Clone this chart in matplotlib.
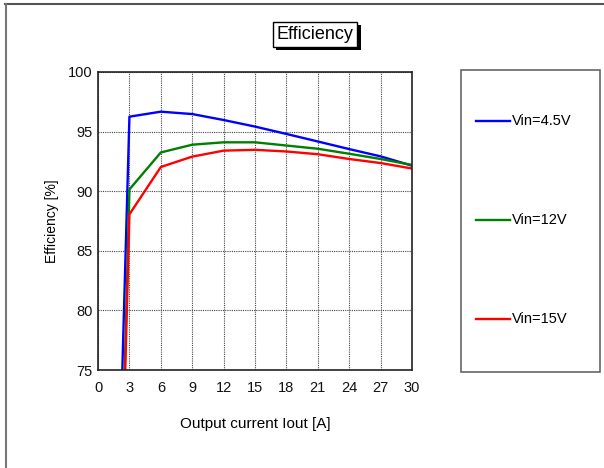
import matplotlib
matplotlib.use("Agg")
import matplotlib.pyplot as plt
import matplotlib.patheffects as pe
from matplotlib.lines import Line2D

plt.rcParams['font.family'] = ['Liberation Sans', 'DejaVu Sans']

# efficiency curves (output current in A, efficiency in %)
iout = [3, 6, 9, 12, 15, 18, 21, 24, 27, 30]
eff_4v5 = [96.25, 96.67, 96.47, 95.97, 95.42, 94.8, 94.17, 93.53, 92.92, 92.14]
eff_12v = [90.15, 93.25, 93.9, 94.1, 94.1, 93.83, 93.56, 93.14, 92.7, 92.2]
eff_15v = [88.06, 92.03, 92.9, 93.4, 93.47, 93.33, 93.1, 92.7, 92.36, 91.9]
# light-load start of each curve, where it leaves the bottom of the plot
start_x = [2.32, 2.55, 2.6]
start_y = 75

labels = ['Vin=4.5V', 'Vin=12V', 'Vin=15V']
colors = ['#0000ff', '#008000', '#ff0000']
series = [eff_4v5, eff_12v, eff_15v]

fig = plt.figure(figsize=(6.04, 4.68), dpi=100)
ax = fig.add_axes([0.1623, 0.2094, 0.5199, 0.6368])

for sx, eff, c in zip(start_x, series, colors):
    ax.plot([sx] + iout, [start_y] + eff, color=c, lw=1.7)

ax.set_xlim(0, 30)
ax.set_ylim(75, 100)
ax.set_xticks(range(0, 31, 3))
ax.set_yticks(range(75, 101, 5))
ax.grid(True, color='#444444', linestyle=(0, (1, 1)), linewidth=0.8)
ax.tick_params(axis='x', length=0, labelsize=10.5, pad=8, labelcolor='#111111')
ax.tick_params(axis='y', length=0, labelsize=10.5, pad=4, labelcolor='#111111')
for s in ax.spines.values():
    s.set_linewidth(1.2)
    s.set_color('#222222')
ax.set_xlabel('Output current Iout [A]', fontsize=11, labelpad=16)
ax.set_ylabel('Efficiency [%]', fontsize=10)
ax.yaxis.set_label_coords(-0.125, 0.5)

# title in a box with a drop shadow
t = fig.text(0.5215, 0.927, 'Efficiency', fontsize=13, ha='center', va='center',
             bbox=dict(boxstyle='square,pad=0.22', fc='white', ec='black', lw=1.0))
t.get_bbox_patch().set_path_effects([
    pe.SimplePatchShadow(offset=(2.5, -2.5), shadow_rgbFace='black', alpha=1.0),
    pe.Normal()])

# legend panel
box = plt.Rectangle((0.7632, 0.2051), 0.2302, 0.6453, transform=fig.transFigure,
                    fill=False, ec='#666666', lw=1.2)
fig.add_artist(box)
for y_px, lab, c in zip([121, 220, 319], labels, colors):
    yf = 1 - y_px / 468
    fig.add_artist(Line2D([476 / 604, 510 / 604], [yf, yf], color=c, lw=1.7,
                          transform=fig.transFigure))
    fig.text(512 / 604, yf, lab, fontsize=10.5, va='center', ha='left')

# outer frame (top and left edges)
fig.add_artist(Line2D([5 / 604, 1], [1 - 3.5 / 468, 1 - 3.5 / 468], color='#555555',
                      lw=1.5, transform=fig.transFigure))
fig.add_artist(Line2D([5.5 / 604, 5.5 / 604], [0, 1 - 3.5 / 468], color='#777777',
                      lw=1.5, transform=fig.transFigure))

fig.savefig('out.png', dpi=100)
